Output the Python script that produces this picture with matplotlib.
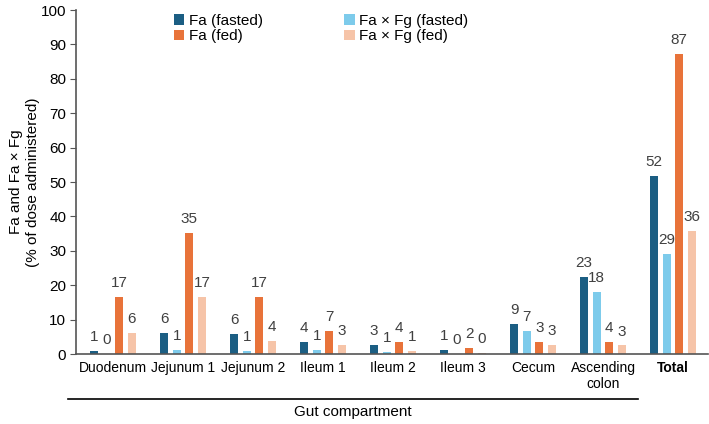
import numpy as np
import matplotlib
matplotlib.use("Agg")
import matplotlib.pyplot as plt

plt.rcParams['font.family'] = ['Liberation Sans', 'DejaVu Sans']

compartments = ["Duodenum", "Jejunum 1", "Jejunum 2", "Ileum 1", "Ileum 2",
                "Ileum 3", "Cecum", "Ascending\ncolon", "Total"]
series = ["Fa (fasted)", "Fa (fed)", "Fa × Fg (fasted)", "Fa × Fg (fed)"]

fa_fasted = [0.8, 6.2, 5.8, 3.5, 2.6, 1.3, 8.7, 22.5, 51.8]
fafg_fasted = [0.1, 1.2, 0.8, 1.2, 0.7, 0.1, 6.6, 18.0, 29.0]
fa_fed = [16.6, 35.2, 16.5, 6.7, 3.5, 1.7, 3.4, 3.5, 87.2]
fafg_fed = [6.2, 16.6, 3.7, 2.7, 1.0, 0.2, 2.6, 2.5, 35.9]

fa_fasted_lbl = [1, 6, 6, 4, 3, 1, 9, 23, 52]
fafg_fasted_lbl = [0, 1, 1, 1, 1, 0, 7, 18, 29]
fa_fed_lbl = [17, 35, 17, 7, 4, 2, 3, 4, 87]
fafg_fed_lbl = [6, 17, 4, 3, 1, 0, 3, 3, 36]

colors = ["#1b5e83", "#7dcbeb", "#e8733a", "#f6c4a8"]

fig = plt.figure(figsize=(7.09, 4.24), dpi=100)
ax = fig.add_axes([76 / 709, 70 / 424, 632 / 709, 344 / 424])

x = np.arange(len(compartments))
w = 0.115
step = 0.18
order = [(fa_fasted, fa_fasted_lbl, colors[0], "Fa (fasted)"),
         (fafg_fasted, fafg_fasted_lbl, colors[1], "Fa × Fg (fasted)"),
         (fa_fed, fa_fed_lbl, colors[2], "Fa (fed)"),
         (fafg_fed, fafg_fed_lbl, colors[3], "Fa × Fg (fed)")]
handles = {}
for i, (vals, lbls, c, name) in enumerate(order):
    pos = x + (i - 1.5) * step
    b = ax.bar(pos, vals, width=w, color=c, label=name)
    handles[name] = b
    for p, v, l in zip(pos, vals, lbls):
        ax.text(p, v + 2.0, str(l), ha="center", va="bottom",
                fontsize=11, color="#404040")

ax.set_xlim(-0.53, 8.5)
ax.set_ylim(0, 100)
ax.set_yticks(np.arange(0, 101, 10))
ax.set_xticks(x)
ax.set_xticklabels(compartments, fontsize=10)
ax.get_xticklabels()[-1].set_fontweight("bold")
ax.tick_params(axis="x", length=0, pad=5)
ax.tick_params(axis="y", labelsize=11, length=4, color="#555555", pad=3)
for s in ["top", "right"]:
    ax.spines[s].set_visible(False)
for s in ["left", "bottom"]:
    ax.spines[s].set_color("#555555")
    ax.spines[s].set_linewidth(1.2)

ax.set_ylabel("Fa and Fa × Fg\n(% of dose administered)", fontsize=11,
              linespacing=1.3)
ax.yaxis.set_label_coords(-0.057, 0.5)

leg = fig.legend([handles[s] for s in series], series, ncol=2, frameon=False,
                 loc="upper left", bbox_to_anchor=(163 / 709, 1 - 3 / 424),
                 handlelength=0.7, handleheight=0.7, handletextpad=0.3,
                 columnspacing=5.3, labelspacing=0.1, fontsize=11,
                 borderpad=0.2)

# gut compartment bracket
fig.add_artist(plt.Line2D([68 / 709, 638 / 709], [1 - 399 / 424, 1 - 399 / 424],
                          color="black", lw=1.2))
fig.text(353 / 709, 1 - 412 / 424, "Gut compartment", ha="center", va="center",
         fontsize=11)

fig.savefig("out.png", dpi=100)
